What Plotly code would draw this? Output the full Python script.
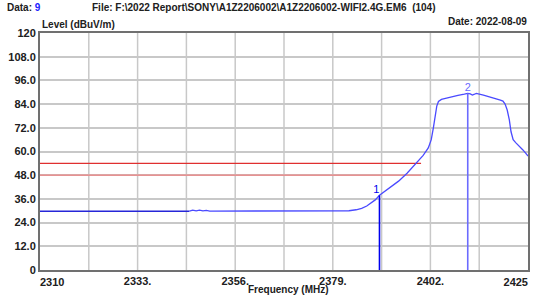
import plotly.graph_objects as go

# ---- data ----
freq_ref = [2310, 2345.2]
level_ref = [29.8, 29.8]

freq = [2345.2, 2346.0, 2346.8, 2347.6, 2348.4, 2349.2, 2350.0, 2360.0, 2370.0, 2380.0, 2382.8,
        2384.5, 2385.8, 2387.0, 2387.9, 2389.0, 2390.0, 2392.0, 2394.5, 2396.5, 2398.7,
        2400.3, 2401.5, 2402.2, 2402.7, 2403.1, 2403.5, 2403.9, 2404.6, 2405.8, 2406.9,
        2408.5, 2410.0, 2410.8, 2411.4, 2411.9, 2412.4, 2412.8, 2414.5, 2416.8, 2418.5,
        2419.1, 2419.6, 2420.1, 2420.6, 2421.0, 2421.5, 2422.1, 2422.7, 2423.3, 2423.8,
        2424.4, 2425.0]
level = [29.8, 30.3, 29.9, 30.3, 29.9, 30.2, 29.8, 29.8, 29.8, 29.9, 30.0,
         30.5, 31.2, 32.4, 33.6, 35.5, 37.8, 41.0, 45.0, 49.0, 54.0,
         58.0, 61.8, 66.0, 72.0, 78.0, 83.0, 85.3, 86.4, 87.0, 87.7,
         88.4, 89.0, 89.4, 89.2, 88.6, 89.0, 89.4, 88.5, 87.2, 86.0,
         85.5, 84.0, 81.0, 76.0, 70.0, 66.0, 64.5, 63.3, 62.0, 60.8,
         59.3, 57.7]

limit_levels = [54.0, 48.0]
limit_colors = ["#e03030", "#f08080"]
limit_end = 2399.8

marker_freqs = [2390.0, 2410.8]
marker_levels = [37.8, 89.4]
marker_names = ["1", "2"]
marker_colors = ["#0000ee", "#6b6bff"]

x_ticks = [2310, 2333, 2356, 2379, 2402, 2425]
x_ticktext = ["2310", "2333.", "2356.", "2379.", "2402.", "2425"]
y_ticks = [0, 12, 24, 36, 48, 60, 72, 84, 96, 108, 120]
y_ticktext = ["0", "12.0", "24.0", "36.0", "48.0", "60.0", "72.0", "84.0", "96.0", "108.0", "120"]
x_grid = [2310 + 11.5 * i for i in range(1, 10)]

X_RANGE = [x_ticks[0], x_ticks[-1]]

fig = go.Figure()

for lv, col in zip(limit_levels, limit_colors):
    fig.add_trace(go.Scatter(x=[X_RANGE[0], limit_end], y=[lv, lv], mode="lines",
                             line=dict(color=col, width=1.3), hoverinfo="skip"))

fig.add_trace(go.Scatter(x=freq_ref, y=level_ref, mode="lines",
                         line=dict(color="#2626d8", width=1.5), hoverinfo="skip"))
fig.add_trace(go.Scatter(x=freq, y=level, mode="lines",
                         line=dict(color="#4a4aff", width=1.3), hoverinfo="skip"))

for f, lv, name, col, pos in zip(marker_freqs, marker_levels, marker_names, marker_colors,
                                 ["top left", "top center"]):
    fig.add_trace(go.Scatter(x=[f, f], y=[0, lv], mode="lines",
                             line=dict(color=col, width=1.6), hoverinfo="skip"))
    fig.add_trace(go.Scatter(x=[f], y=[lv], mode="text", text=[name], textposition=pos,
                             textfont=dict(color=col, size=11, family="Liberation Sans"),
                             hoverinfo="skip"))

# invisible carriers so the auxiliary label axes get drawn
for ax in ["x2", "x3"]:
    fig.add_trace(go.Scatter(x=freq_ref, y=level_ref, xaxis=ax, mode="lines",
                             line=dict(width=0), opacity=0, hoverinfo="skip"))

shapes = []
for g in x_grid:
    shapes.append(dict(type="line", xref="x", yref="paper", x0=g, x1=g, y0=0, y1=1,
                       line=dict(color="#c8c8c8", width=1.5), layer="below"))

tickfont = dict(family="Liberation Sans", size=11, color="#202020", weight="bold")

fig.update_layout(
    width=537, height=303,
    margin=dict(l=40, r=7, t=33, b=33),
    paper_bgcolor="white", plot_bgcolor="white",
    showlegend=False,
    shapes=shapes,
    font=dict(family="Liberation Sans", size=11, color="#202020"),
    xaxis=dict(range=X_RANGE, tickvals=x_ticks[1:-1], ticktext=x_ticktext[1:-1],
               showgrid=False, zeroline=False, showline=True, linecolor="#707070",
               linewidth=2, mirror=True, ticks="", ticklen=0, tickfont=tickfont),
    xaxis2=dict(range=X_RANGE, overlaying="x", anchor="y", side="bottom",
                tickvals=x_ticks[:1], ticktext=x_ticktext[:1], ticklabelposition="outside right",
                ticklabelstandoff=4,
                showgrid=False, zeroline=False, showline=False, ticks="", tickfont=tickfont),
    xaxis3=dict(range=X_RANGE, overlaying="x", anchor="y", side="bottom",
                tickvals=x_ticks[-1:], ticktext=x_ticktext[-1:], ticklabelposition="outside left",
                ticklabelstandoff=4,
                showgrid=False, zeroline=False, showline=False, ticks="", tickfont=tickfont),
    yaxis=dict(range=[0, 120], tickvals=y_ticks, ticktext=y_ticktext,
               showgrid=True, gridcolor="#c8c8c8", gridwidth=1.5, zeroline=False,
               showline=True, linecolor="#707070", linewidth=2, mirror=True,
               ticks="", ticklen=0, tickfont=tickfont),
)

# text annotations positioned in paper coords
pw, ph = 537 - 47, 303 - 66
def px(x):
    return (x - 40) / pw
def py(y):
    return (270 - y) / ph

anns = [
    ("<b>Data: <span style='color:#2020ff'>9</span></b>", 5, 8, "left"),
    ("<b>File: F:\\2022 Report\\SONY\\A1Z2206002\\A1Z2206002-WIFI2.4G.EM6  (104)</b>", 90, 8, "left"),
    ("<b>Date: 2022-08-09</b>", 531, 22, "right"),
    ("<b>Level (dBuV/m)</b>", 40, 25, "left"),
    ("<b>Frequency (MHz)</b>", 290, 289, "center"),
]
for text, x, y, anchor in anns:
    fig.add_annotation(xref="paper", yref="paper", showarrow=False, yanchor="middle",
                       font=dict(family="Liberation Sans", size=10, color="#202020"),
                       text=text, x=px(x), y=py(y), xanchor=anchor)

fig.write_html("out.html", config={"displayModeBar": False},
               post_script="document.body.style.margin='0';")
